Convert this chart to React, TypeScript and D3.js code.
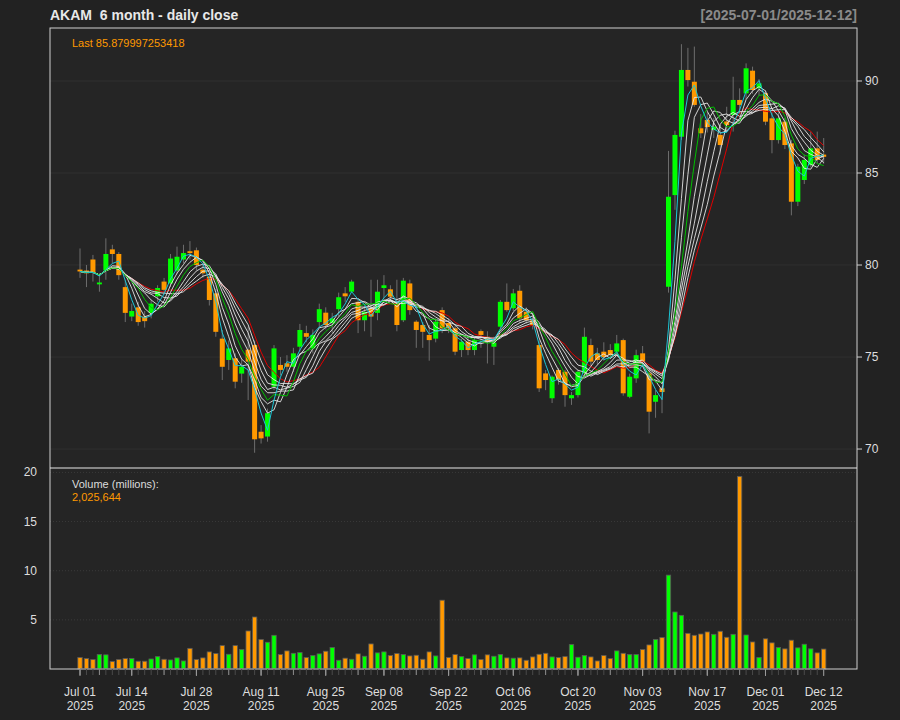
import React from "react";
import * as d3 from "d3";

// ---------------- DATA ----------------
const startDate = "2025-07-01";
const endDate = "2025-12-12";
const holidays = ["2025-07-04", "2025-09-01", "2025-11-27"];

const opens = [
  79.75, 79.7, 80.3, 78.95, 79.7, 80.85, 80.6, 78.8, 77.2, 77.7,
  77.2, 77.4, 78.3, 79.1, 79.0, 79.7, 80.3, 80.75, 80.8, 79.75,
  79.36, 78.46, 76.0, 74.84, 74.93, 74.1, 75.4, 75.65, 70.94, 70.68,
  73.39, 74.57, 74.66, 74.47, 75.56, 76.3, 75.47, 76.9, 77.41, 76.85,
  77.6, 78.46, 78.55, 78.0, 77.0, 77.65, 77.4, 78.75, 78.68, 77.92,
  77.0, 79.0, 76.92, 76.74, 76.2, 76.0, 77.55, 76.85, 76.56, 75.38,
  75.83, 75.38, 76.41, 76.1, 75.56, 76.65, 78.0, 77.65, 78.6, 77.46,
  77.0, 75.65, 74.11, 72.76, 74.3, 74.2, 72.76, 72.93, 74.11, 75.65,
  75.2, 75.29, 75.38, 75.29, 75.92, 72.84, 73.84, 75.2, 74.11, 72.57,
  73.3, 78.82, 83.8, 86.97, 90.6, 89.96, 87.43, 87.88, 87.34, 87.07,
  87.8, 88.15, 88.97, 89.33, 90.56, 89.6, 89.33, 87.97, 86.79, 87.79,
  86.61, 83.44, 84.62, 85.43, 86.34, 86.0,
];
const highs = [
  80.9, 80.0, 80.55, 79.55, 81.45, 81.1, 80.7, 79.2, 77.9, 78.0,
  77.5, 78.1, 78.9, 79.3, 80.6, 81.0, 81.1, 81.3, 80.95, 80.1,
  79.6, 78.7, 76.47, 75.9, 75.2, 74.9, 76.65, 75.9, 71.3, 72.2,
  75.65, 75.0, 75.1, 75.5, 76.8, 76.7, 76.5, 77.9, 77.7, 77.4,
  78.5, 78.8, 79.2, 78.2, 77.8, 79.2, 79.2, 79.45, 78.9, 79.2,
  79.3, 79.2, 77.0, 76.9, 76.74, 77.1, 77.7, 77.1, 76.8, 76.0,
  76.1, 76.1, 76.5, 76.4, 76.1, 78.1, 79.0, 78.7, 78.9, 77.7,
  77.2, 75.9, 74.3, 74.0, 74.4, 74.3, 73.1, 74.3, 76.6, 76.0,
  75.5, 75.8, 75.7, 76.2, 76.0, 74.1, 75.4, 75.6, 74.3, 73.2,
  73.4, 86.2, 87.3, 92.0, 91.8, 91.87, 88.2, 88.3, 88.0, 87.6,
  88.6, 90.23, 89.6, 90.96, 90.78, 90.1, 89.5, 88.3, 88.3, 88.0,
  86.8, 85.5, 86.0, 87.25, 87.25, 86.9,
];
const lows = [
  79.3, 78.8, 79.1, 78.55, 79.2, 80.1, 79.2, 76.9, 76.95, 76.7,
  76.6, 77.1, 78.0, 78.4, 78.8, 79.5, 80.1, 80.3, 79.7, 79.3,
  77.8, 76.1, 73.75, 74.3, 73.3, 73.6, 72.66, 69.8, 70.3, 70.4,
  73.2, 74.0, 74.2, 74.2, 75.3, 75.8, 75.2, 76.6, 76.5, 76.3,
  77.2, 78.0, 78.5, 76.3, 76.4, 76.1, 77.0, 78.2, 78.1, 76.4,
  76.9, 77.3, 75.5, 75.5, 74.8, 75.8, 76.3, 76.3, 75.1, 75.0,
  75.1, 75.1, 75.5, 74.65, 74.57, 76.5, 77.46, 77.5, 76.85, 76.8,
  76.5, 73.1, 73.2, 72.5, 73.5, 72.3, 72.4, 72.8, 73.9, 74.5,
  74.6, 74.8, 74.9, 75.2, 72.9, 72.76, 73.6, 74.5, 70.85, 71.7,
  71.95, 78.5, 83.0, 86.8, 89.7, 88.6, 86.9, 87.2, 86.9, 86.0,
  87.2, 87.25, 88.2, 89.0, 89.3, 89.2, 87.6, 86.07, 86.6, 86.3,
  82.7, 83.2, 84.4, 85.3, 85.5, 85.5,
];
const closes = [
  79.65, 79.55, 79.6, 79.05, 80.6, 80.6, 79.45, 77.4, 77.5, 76.9,
  76.95, 77.9, 78.75, 78.65, 80.35, 80.45, 80.65, 80.65, 80.0, 79.55,
  78.1, 76.37, 74.47, 75.47, 73.66, 74.47, 74.75, 70.53, 70.58, 71.95,
  75.47, 74.3, 74.47, 75.2, 76.47, 76.1, 76.2, 77.6, 76.74, 77.1,
  78.25, 78.3, 79.1, 77.0, 77.46, 77.2, 78.55, 78.9, 78.28, 76.74,
  79.15, 77.55, 76.47, 76.37, 75.92, 76.92, 76.56, 76.56, 75.29, 75.83,
  75.38, 75.92, 76.2, 75.83, 75.78, 78.0, 77.55, 78.46, 77.1, 77.0,
  76.74, 73.3, 73.75, 73.93, 73.75, 72.93, 72.93, 74.2, 76.1, 74.75,
  74.84, 75.0, 75.1, 75.74, 73.03, 73.93, 75.1, 74.75, 72.03, 72.93,
  73.1, 83.71, 87.07, 90.6, 90.05, 88.7, 87.16, 87.5, 87.52, 86.52,
  87.6, 88.97, 88.7, 90.69, 89.51, 89.87, 87.79, 86.79, 87.97, 86.52,
  83.44, 85.34, 85.71, 86.34, 85.71, 85.88,
];
// volume in millions
const volumes = [
  1.17, 1.06, 0.96, 1.47, 1.44, 0.76, 0.96, 1.06, 1.06, 0.79,
  0.79, 1.02, 1.26, 0.99, 0.92, 1.13, 0.82, 2.1, 0.96, 1.13,
  1.74, 1.57, 2.38, 1.5, 2.38, 1.98, 3.87, 5.29, 3.0, 2.72,
  3.43, 1.47, 1.84, 1.6, 1.67, 1.17, 1.37, 1.54, 1.81, 2.18,
  0.89, 1.1, 0.99, 1.54, 1.3, 2.55, 1.64, 1.74, 1.37, 1.57,
  1.47, 1.33, 1.4, 0.99, 1.74, 1.33, 7.0, 1.17, 1.47, 1.26,
  1.06, 1.44, 0.96, 1.44, 1.3, 1.47, 1.13, 1.1, 1.13, 0.89,
  1.23, 1.5, 1.6, 1.23, 1.17, 1.26, 2.48, 1.2, 1.37, 1.23,
  0.82, 1.37, 1.06, 1.84, 1.6, 1.47, 1.47, 1.98, 2.45, 3.0,
  3.2, 9.55, 5.8, 5.46, 3.63, 3.43, 3.56, 3.77, 3.53, 3.84,
  3.23, 3.53, 19.6, 3.46, 2.75, 1.17, 3.07, 2.66, 2.18, 2.05,
  2.93, 2.15, 2.52, 2.05, 1.64, 2.03,
];

const ticker = "AKAM";
const lastCloseText = "85.879997253418";
const lastVolumeText = "2,025,644";
const priceTicks = [70, 75, 80, 85, 90];
const volumeTicks = [5, 10, 15, 20];
const xLabelDates = [
  "2025-07-01", "2025-07-14", "2025-07-28", "2025-08-11", "2025-08-25",
  "2025-09-08", "2025-09-22", "2025-10-06", "2025-10-20", "2025-11-03",
  "2025-11-17", "2025-12-01", "2025-12-12",
];
const maPeriods = [11, 10, 9, 8, 7, 5, 4, 6, 3];
const maColors = ["#e00000", "#e4e4e4", "#e4e4e4", "#e4e4e4", "#e4e4e4", "#e4e4e4", "#e4e4e4", "#00c000", "#1cc6d6"];

// ---------------- LAYOUT ----------------
const W = 900;
const H = 720;
const X0 = 50;
const X1 = 857;
const PT = 28;
const PB = 468;
const VB = 669;
const FONT = "'Liberation Sans', Arial, Helvetica, sans-serif";
const UP = "#00ff00";
const DN = "#ff9900";

const fmtISO = d3.timeFormat("%Y-%m-%d");
const fmtLabel = d3.timeFormat("%b %d");

function tradingDays() {
  const parse = d3.timeParse("%Y-%m-%d");
  const s = parse(startDate) as Date;
  const e = d3.timeDay.offset(parse(endDate) as Date, 1);
  return d3.timeDay.range(s, e).filter((d) => {
    const wd = d.getDay();
    return wd !== 0 && wd !== 6 && !holidays.includes(fmtISO(d));
  });
}

function sma(arr: number[], n: number) {
  return arr.map((_, i) => d3.mean(arr.slice(Math.max(0, i - n + 1), i + 1)) as number);
}

export default function App() {
  const dates = tradingDays();
  const N = closes.length;
  const x = d3.scaleLinear().domain([-4.64, 120.15]).range([X0, X1]);
  const y = d3.scaleLinear().domain([68.97, 92.88]).range([PB, PT]);
  const yv = d3.scaleLinear().domain([0, 20.45]).range([VB, PB]);

  const weekTicks: number[] = [];
  dates.forEach((d, i) => {
    if (i === 0 || d3.timeMonday.floor(d).getTime() !== d3.timeMonday.floor(dates[i - 1]).getTime()) weekTicks.push(i);
  });
  const labelIdx = xLabelDates.map((s) => dates.findIndex((d) => fmtISO(d) === s));

  const line = d3
    .line<number>()
    .x((_, i) => x(i))
    .y((v) => y(v));

  const bw = 5;

  return (
    <svg width={W} height={H} style={{ display: "block", position: "absolute", left: 0, top: 0, background: "#222222" }} fontFamily={FONT}>
      <rect x={0} y={0} width={W} height={H} fill="#222222" />
      <rect x={X0} y={PT} width={X1 - X0} height={VB - PT} fill="#252525" />

      {/* title */}
      <text x={X0} y={20} fontSize={14} fontWeight="bold" fill="#e8e8e8">
        {`${ticker}\u00a0\u00a06 month - daily close`}
      </text>
      <text x={X1} y={20} fontSize={14} fontWeight="bold" fill="#8a8a8a" textAnchor="end">
        {`[${startDate}/${endDate}]`}
      </text>

      {/* price grid */}
      {priceTicks.map((p) => (
        <line key={"pg" + p} x1={X0} x2={X1} y1={y(p)} y2={y(p)} stroke="#303030" strokeWidth={1} />
      ))}
      {/* volume grid */}
      {volumeTicks.map((v) => (
        <line key={"vg" + v} x1={X0} x2={X1} y1={yv(v)} y2={yv(v)} stroke="#3a3a3a" strokeWidth={1} strokeDasharray="1,2" />
      ))}

      {/* wicks */}
      {closes.map((c, i) => (
        <line key={"w" + i} x1={x(i)} x2={x(i)} y1={y(highs[i])} y2={y(lows[i])} stroke="#6e6e6e" strokeWidth={1} />
      ))}
      {/* bodies */}
      {closes.map((c, i) => {
        const o = opens[i];
        const top = y(Math.max(o, c));
        const bot = y(Math.min(o, c));
        return (
          <rect
            key={"b" + i}
            x={x(i) - bw / 2}
            y={top}
            width={bw}
            height={Math.max(1.5, bot - top)}
            fill={c >= o ? UP : DN}
          />
        );
      })}

      {/* moving average ribbon */}
      {maPeriods.map((n, k) => (
        <path
          key={"ma" + n}
          d={line(sma(closes, n)) || ""}
          fill="none"
          stroke={maColors[k]}
          strokeWidth={1}
          strokeOpacity={maColors[k] === "#e4e4e4" ? 0.9 : 1}
        />
      ))}

      {/* volume bars */}
      {volumes.map((v, i) => (
        <rect
          key={"v" + i}
          x={x(i) - 2.2}
          y={yv(v)}
          width={4.4}
          height={VB - yv(v)}
          fill={closes[i] >= opens[i] ? UP : DN}
          stroke="#5a5a5a"
          strokeWidth={0.8}
        />
      ))}

      {/* panel borders */}
      <rect x={X0} y={PT} width={X1 - X0} height={VB - PT} fill="none" stroke="#cfcfcf" strokeWidth={1} />
      <line x1={X0} x2={X1} y1={PB} y2={PB} stroke="#e8e8e8" strokeWidth={1} />

      {/* x axis */}
      <line x1={x(0)} x2={x(N - 1)} y1={VB} y2={VB} stroke="#6a6a6a" strokeWidth={1} />
      {dates.map((d, i) => (
        <line key={"xt" + i} x1={x(i)} x2={x(i)} y1={VB} y2={VB + 6} stroke="#4a4a4a" strokeWidth={1} />
      ))}
      {weekTicks.map((i) => (
        <line key={"xw" + i} x1={x(i)} x2={x(i)} y1={VB} y2={VB + 6} stroke="#8a8a8a" strokeWidth={1} />
      ))}
      {labelIdx.map((i) => (
        <g key={"xl" + i}>
          <line x1={x(i)} x2={x(i)} y1={VB} y2={VB + 7} stroke="#9a9a9a" strokeWidth={1} />
          <text x={x(i)} y={696} fontSize={12} fill="#dedede" textAnchor="middle">
            {fmtLabel(dates[i])}
          </text>
          <text x={x(i)} y={710} fontSize={12} fill="#dedede" textAnchor="middle">
            {dates[i].getFullYear()}
          </text>
        </g>
      ))}

      {/* price axis (right) */}
      {priceTicks.map((p) => (
        <g key={"py" + p}>
          <line x1={X1} x2={X1 + 5} y1={y(p)} y2={y(p)} stroke="#cfcfcf" strokeWidth={1} />
          <text x={X1 + 8} y={y(p) + 4} fontSize={12} fill="#dedede">
            {p}
          </text>
        </g>
      ))}
      {/* volume axis (left) */}
      {volumeTicks.map((v) => (
        <text key={"vy" + v} x={37} y={yv(v) + 4} fontSize={12} fill="#dedede" textAnchor="end">
          {v}
        </text>
      ))}

      {/* legends */}
      <text x={72} y={47} fontSize={11} fill={DN}>
        {`Last ${lastCloseText}`}
      </text>
      <text x={72} y={488} fontSize={11} fill="#dcdcdc">
        Volume (millions):
      </text>
      <text x={72} y={501} fontSize={11} fill={DN}>
        {lastVolumeText}
      </text>
    </svg>
  );
}
